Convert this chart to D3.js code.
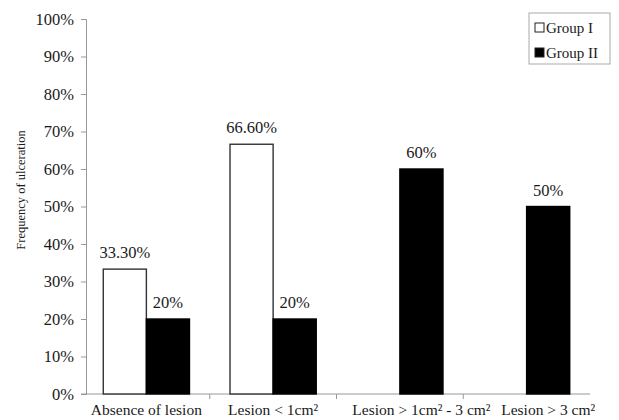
<!DOCTYPE html>
<html>
<head>
<meta charset="utf-8">
<script src="https://cdn.jsdelivr.net/npm/d3@7"></script>
<style>
  body { margin: 0; background: #fff; }
  text { font-family: "Liberation Serif", "DejaVu Serif", serif; fill: #1a1a1a; }
</style>
</head>
<body>
<div id="chart"></div>
<script>
// data
var categories = ["Absence of lesion", "Lesion < 1cm²", "Lesion > 1cm² - 3 cm²", "Lesion > 3 cm²"];
var groups = ["Group I", "Group II"];
var groupI = [33.3, 66.6, 0, 0];
var groupII = [20, 20, 60, 50];
var valueLabelsI = ["33.30%", "66.60%", "", ""];
var valueLabelsII = ["20%", "20%", "60%", "50%"];
var yTicks = [0, 10, 20, 30, 40, 50, 60, 70, 80, 90, 100];

var width = 619;
var height = 420;
var plotLeft = 86, plotRight = 590, plotTop = 19, plotBottom = 394;

var svg = d3.select("#chart").append("svg")
    .attr("width", width)
    .attr("height", height);

var x0 = d3.scaleBand().domain(categories).range([plotLeft - 3, plotRight]).paddingInner(0).paddingOuter(0);
var x1 = d3.scaleBand().domain(groups).range([0, x0.bandwidth()]).paddingInner(0).paddingOuter(0.47);
var y = d3.scaleLinear().domain([0, 100]).range([plotBottom, plotTop]);

var fills = {"Group I": "#fff", "Group II": "#000"};

// y axis
var yAxis = d3.axisLeft(y).tickValues(yTicks).tickSize(5).tickPadding(7)
    .tickFormat(function(d) { return d + "%"; });
var gy = svg.append("g").attr("transform", "translate(" + plotLeft + ",0)").call(yAxis);
gy.select(".domain").attr("stroke", "#999");
gy.selectAll(".tick line").attr("stroke", "#999");
gy.selectAll(".tick text").attr("font-size", 16.5).attr("font-family", "Liberation Serif").attr("fill", "#1a1a1a");

// x axis line + boundary ticks
svg.append("line")
    .attr("x1", plotLeft - 5).attr("x2", plotRight)
    .attr("y1", plotBottom).attr("y2", plotBottom)
    .attr("stroke", "#999");
var bounds = categories.map(function(c) { return x0(c); }).concat([plotRight]);
svg.selectAll(".xtick").data(bounds.slice(1, 4)).enter().append("line")
    .attr("x1", function(d) { return d; }).attr("x2", function(d) { return d; })
    .attr("y1", plotBottom).attr("y2", plotBottom + 5)
    .attr("stroke", "#999");

// bars
var rows = categories.map(function(c, i) {
    return {cat: c, vals: [
        {g: "Group I", v: groupI[i], label: valueLabelsI[i]},
        {g: "Group II", v: groupII[i], label: valueLabelsII[i]}
    ]};
});

// category labels, centred under the visible bars
svg.selectAll(".cat").data(rows).enter().append("text")
    .attr("x", function(d) {
        var shown = d.vals.filter(function(v) { return v.v > 0; });
        var c = d3.mean(shown, function(v) { return x1(v.g) + x1.bandwidth() / 2; });
        return x0(d.cat) + c;
    })
    .attr("y", 415)
    .attr("text-anchor", "middle")
    .attr("font-size", 15.5)
    .text(function(d) { return d.cat; });

var cat = svg.selectAll(".catg").data(rows).enter().append("g")
    .attr("transform", function(d) { return "translate(" + x0(d.cat) + ",0)"; });

cat.selectAll("rect").data(function(d) { return d.vals.filter(function(v) { return v.v > 0; }); })
    .enter().append("rect")
    .attr("x", function(d) { return x1(d.g); })
    .attr("y", function(d) { return y(d.v); })
    .attr("width", x1.bandwidth())
    .attr("height", function(d) { return plotBottom - y(d.v); })
    .attr("fill", function(d) { return fills[d.g]; })
    .attr("stroke", function(d) { return d.g === "Group I" ? "#333" : "#000"; })
    .attr("stroke-width", 1.4);

cat.selectAll(".val").data(function(d) { return d.vals.filter(function(v) { return v.label; }); })
    .enter().append("text")
    .attr("x", function(d) { return x1(d.g) + x1.bandwidth() / 2; })
    .attr("y", function(d) { return y(d.v) - 11; })
    .attr("text-anchor", "middle")
    .attr("font-size", 16.5)
    .text(function(d) { return d.label; });

// y title
svg.append("text")
    .attr("transform", "translate(25," + 190 + ") rotate(-90)")
    .attr("text-anchor", "middle")
    .attr("font-size", 12.5)
    .text("Frequency of ulceration");

// legend
var legend = svg.append("g").attr("transform", "translate(529,13)");
legend.append("rect")
    .attr("width", 81).attr("height", 51)
    .attr("fill", "#fff").attr("stroke", "#aaa");
groups.forEach(function(g, i) {
    legend.append("rect")
        .attr("x", 6).attr("y", 10 + i * 25)
        .attr("width", 9).attr("height", 9)
        .attr("fill", fills[g]).attr("stroke", "#222");
    legend.append("text")
        .attr("x", 17).attr("y", 20 + i * 25)
        .attr("font-size", 15)
        .text(g);
});
</script>
</body>
</html>
